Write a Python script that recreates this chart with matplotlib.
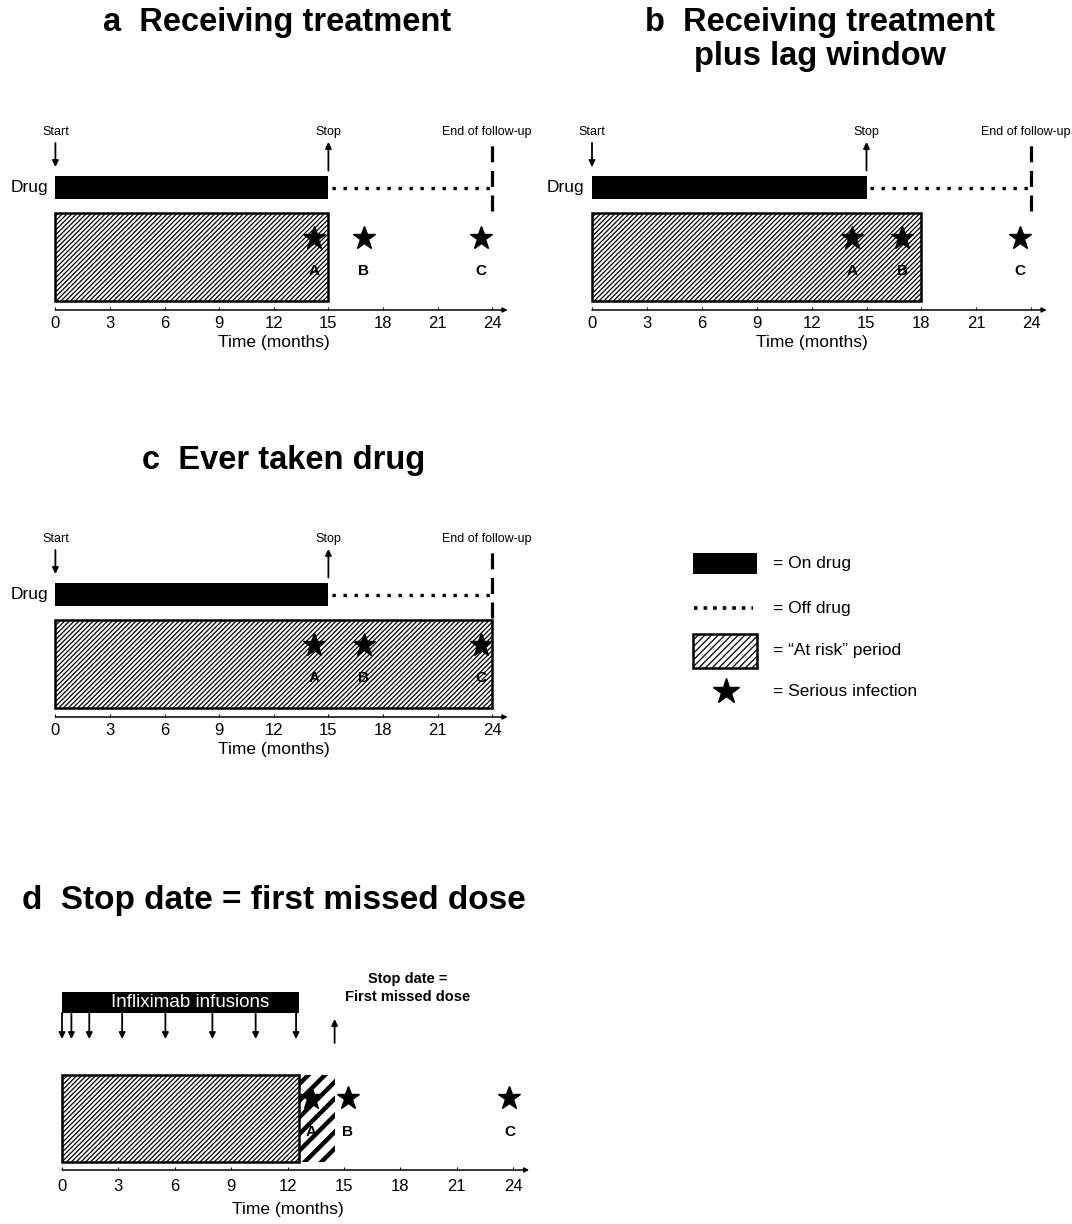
import matplotlib
matplotlib.use('Agg')
import matplotlib.pyplot as plt

plt.rcParams['font.family'] = ['Liberation Sans', 'DejaVu Sans']
plt.rcParams['hatch.linewidth'] = 0.9

# ---------------- data ----------------
month_ticks = [0, 3, 6, 9, 12, 15, 18, 21, 24]
follow_up_end = 24
drug_start = 0
drug_stop = 15
infection_months = [14.2, 16.95, 23.4]
infection_labels = ['A', 'B', 'C']
risk_end_a = 15          # receiving treatment
risk_end_b = 18          # plus 3-month lag window
risk_end_c = 24          # ever taken drug
infusion_months = [0, 0.5, 1.45, 3.2, 5.5, 8.0, 10.3, 12.45]
d_infusion_end = 12.6
d_stop_month = 14.5
d_infection_months = [13.25, 15.2, 23.8]
legend_labels = ['= On drug', '= Off drug', '= \u201cAt risk\u201d period', '= Serious infection']

W, H = 1072, 1224
fig = plt.figure(figsize=(W / 100, H / 100), dpi=100)

ARROW = dict(arrowstyle='-|>', lw=1.3, color='black', mutation_scale=9,
             shrinkA=0, shrinkB=0)
FINE = '///////'
TITLE_FS = 23.5


def panel_axes(x0, ppm, yaxis, ytop, xmin=-3.0, xmax=27.0, tick_pad=4.5, labelpad=3):
    left = x0 + xmin * ppm
    width = (xmax - xmin) * ppm
    ax = fig.add_axes([left / W, 1 - yaxis / H, width / W, (yaxis - ytop) / H])
    ax.set_xlim(xmin, xmax)
    ax.set_ylim(0, yaxis - ytop)
    for s in ax.spines.values():
        s.set_visible(False)
    ax.set_yticks([])
    ax.set_xticks(month_ticks)
    ax.set_xticklabels([str(t) for t in month_ticks], fontsize=12)
    ax.tick_params(axis='x', length=2.5, width=0.8, direction='in', pad=tick_pad)
    ax.set_xlabel('Time (months)', fontsize=12.5, labelpad=labelpad)
    ax.annotate('', xy=(24.85, 0), xytext=(0, 0),
                arrowprops=dict(arrowstyle='-|>', lw=1.1, color='black',
                                mutation_scale=7, shrinkA=0, shrinkB=0),
                annotation_clip=False)
    ax.patch.set_visible(False)
    return ax


def standard_panel(ax, risk_end):
    # at-risk box
    ax.barh(53, risk_end, left=0, height=88, color='white', edgecolor='black',
            hatch=FINE, linewidth=1.8, zorder=1)
    # drug bar
    ax.barh(122.5, drug_stop - drug_start, left=drug_start, height=23,
            color='black', zorder=2)
    # off drug
    ax.plot([drug_stop + 0.2, follow_up_end], [122.5, 122.5], color='black',
            lw=2.4, ls=(0, (1, 2.3)), zorder=2)
    # end of follow-up
    ax.plot([follow_up_end, follow_up_end], [99, 167], color='black', lw=2.3,
            ls=(0, (5, 2.7)), zorder=3)
    # start / stop arrows
    ax.annotate('', xy=(drug_start, 143), xytext=(drug_start, 167), arrowprops=ARROW)
    ax.annotate('', xy=(drug_stop, 168), xytext=(drug_stop, 139.5), arrowprops=ARROW)
    ax.text(drug_start, 178, 'Start', ha='center', va='center', fontsize=9)
    ax.text(drug_stop, 178, 'Stop', ha='center', va='center', fontsize=9)
    ax.text(follow_up_end - 0.3, 178, 'End of follow-up', ha='center', va='center',
            fontsize=9, clip_on=False)
    ax.text(-0.4, 122.5, 'Drug', ha='right', va='center', fontsize=12.5)
    # infections
    ax.plot(infection_months, [72] * len(infection_months), ls='none', marker='*',
            ms=17, color='black', zorder=4)
    for m, lab in zip(infection_months, infection_labels):
        ax.text(m, 39, lab, ha='center', va='center', fontsize=11,
                fontweight='bold', zorder=4)


def ftext(x, y, s, **kw):
    fig.text(x / W, 1 - y / H, s, **kw)


# ---- panel a ----
ax_a = panel_axes(55.4, 18.2, 310, 120)
standard_panel(ax_a, risk_end_a)
ftext(277, 23, 'a  Receiving treatment', ha='center', va='center',
      fontsize=TITLE_FS, fontweight='bold')

# ---- panel b ----
ax_b = panel_axes(592, 18.3, 310, 120)
standard_panel(ax_b, risk_end_b)
ftext(820, 23, 'b  Receiving treatment', ha='center', va='center',
      fontsize=TITLE_FS, fontweight='bold')
ftext(820, 56, 'plus lag window', ha='center', va='center',
      fontsize=TITLE_FS, fontweight='bold')

# ---- panel c ----
ax_c = panel_axes(55.4, 18.2, 717, 527)
standard_panel(ax_c, risk_end_c)
ftext(284, 460, 'c  Ever taken drug', ha='center', va='center',
      fontsize=TITLE_FS, fontweight='bold')

# ---- legend / key ----
ax_k = fig.add_axes([680 / W, 1 - 710 / H, 280 / W, 170 / H])
ax_k.set_xlim(680, 960)
ax_k.set_ylim(710, 540)
ax_k.axis('off')
key_y = [563.5, 608, 650.5, 691]
ax_k.barh(key_y[0], 64, left=693, height=21, color='black')
ax_k.plot([694, 753], [key_y[1], key_y[1]], color='black', lw=2.6, ls=(0, (1, 1.65)))
ax_k.barh(key_y[2], 64, left=693, height=34, color='white', edgecolor='black',
          hatch='/////', linewidth=1.8)
ax_k.plot([726], [key_y[3]], ls='none', marker='*', ms=19, color='black')
for yy, lab in zip(key_y, legend_labels):
    ax_k.text(773, yy, lab, ha='left', va='center', fontsize=12.5)

# ---- panel d ----
ax_d = panel_axes(62, 18.8, 1170, 945, tick_pad=6.5, labelpad=6)
ax_d.barh(51.5, d_infusion_end, left=0, height=87, color='white', edgecolor='black',
          hatch=FINE, linewidth=1.8, zorder=2)
coarse = ax_d.barh(51.5, d_stop_month - d_infusion_end, left=d_infusion_end, height=87,
                   color='white', edgecolor='black', hatch='//', linewidth=0, zorder=1)
for p in coarse.patches:
    try:
        p.set_hatch_linewidth(3.2)
    except AttributeError:
        pass
ax_d.barh(167.5, d_infusion_end, left=0, height=21, color='black', zorder=2)
ax_d.text(6.8, 167.5, 'Infliximab infusions', color='white', ha='center',
          va='center', fontsize=13.5, zorder=3)
for m in infusion_months:
    ax_d.annotate('', xy=(m, 131), xytext=(m, 157), arrowprops=ARROW)
ax_d.annotate('', xy=(d_stop_month, 151), xytext=(d_stop_month, 127), arrowprops=ARROW)
ax_d.text(18.4, 182, 'Stop date =\nFirst missed dose', ha='center', va='center',
          fontsize=10.5, fontweight='bold', linespacing=1.35)
ax_d.plot(d_infection_months, [72] * len(d_infection_months), ls='none', marker='*',
          ms=17, color='black', zorder=4)
for m, lab in zip(d_infection_months, infection_labels):
    ax_d.text(m, 38, lab, ha='center', va='center', fontsize=11,
              fontweight='bold', zorder=4)
ftext(22, 900, 'd  Stop date = first missed dose', ha='left', va='center',
      fontsize=24, fontweight='bold')

fig.savefig('out.png', dpi=100)
